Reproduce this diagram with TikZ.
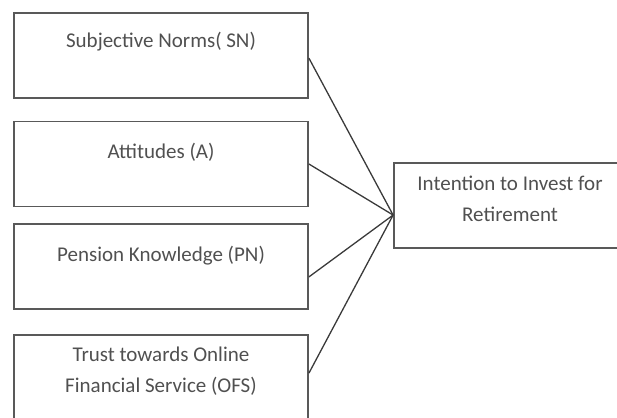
\documentclass[tikz,border=0pt]{standalone}
\usepackage{fontspec}
\setmainfont{Carlito}
\usetikzlibrary{calc}
\definecolor{boxline}{HTML}{595959}
\definecolor{conn}{HTML}{3A3A3A}
\definecolor{txt}{HTML}{505050}
\begin{document}
\begin{tikzpicture}[x=1pt,y=-1pt,
  box/.style={draw=boxline,line width=1.8pt,rectangle,inner sep=0pt,minimum width=294pt,minimum height=85pt},
  rbox/.style={draw=boxline,line width=1.8pt,rectangle,inner sep=0pt,minimum width=232pt,minimum height=85pt},
  lbl/.style={anchor=center,inner sep=0pt,text=txt,font=\fontsize{21}{31}\selectfont,align=center},
  conline/.style={draw=conn,line width=1.3pt}]
\useasboundingbox (0,0) rectangle (617,417);
\begin{scope}
\clip (0,0) rectangle (617,417);
\node[box] (sn) at (161,55.5) {};
\node[box] (at) at (161,164) {};
\node[box] (pn) at (161,266.5) {};
\node[box] (ofs) at (161,377.5) {};
\node[rbox] (it) at (510,205.5) {};
\node[lbl] (t1) at ([yshift=-30pt]sn.north) {Subjective Norms( SN)};
\node[lbl] (t2) at ([yshift=-32pt]at.north) {Attitudes (A)};
\node[lbl] (t3) at ([yshift=-33pt]pn.north) {Pension Knowledge (PN)};
\node[lbl] (t4) at ([yshift=-37.5pt]ofs.north) {Trust towards Online\\Financial Service (OFS)};
\node[lbl] (t5) at ([yshift=-37pt]it.north) {Intention to Invest for\\Retirement};
\coordinate (c) at ($(it.north west)!0.61!(it.south west)$);
\coordinate (e1) at ($(sn.north east)!0.53!(sn.south east)$);
\coordinate (e2) at ($(at.north east)!0.5!(at.south east)$);
\coordinate (e3) at ($(pn.north east)!0.62!(pn.south east)$);
\coordinate (e4) at ($(ofs.north east)!0.45!(ofs.south east)$);
\draw[conline] (e1) -- (c);
\draw[conline] (e2) -- (c);
\draw[conline] (e3) -- (c);
\draw[conline] (e4) -- (c);
\end{scope}
\end{tikzpicture}
\end{document}
